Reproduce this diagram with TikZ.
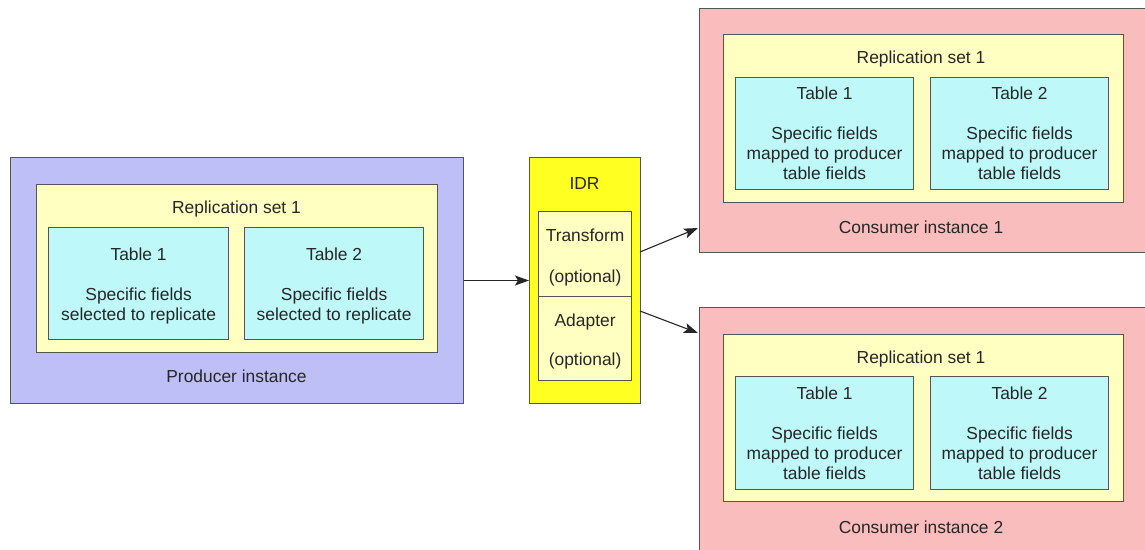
\documentclass[tikz,border=0pt]{standalone}
\usepackage{fontspec}
\setmainfont{Liberation Sans}
\usetikzlibrary{arrows.meta}
\definecolor{prodfill}{HTML}{BFBFF8}
\definecolor{consfill}{HTML}{F9BDBD}
\definecolor{setfill}{HTML}{FFFFC2}
\definecolor{tabfill}{HTML}{BFF8F8}
\definecolor{idrfill}{HTML}{FFFF22}
\definecolor{edge}{HTML}{555555}
\newcommand{\upstrut}[1]{\rule{0pt}{#1}}
\tikzset{
  box/.style={draw=edge, line width=1.2pt, anchor=north west, inner sep=0pt, font=\fontsize{17.4}{20}\selectfont, text=black!85},
  outerbox/.style={box, line width=1pt},
  tabbox/.style={box, fill=tabfill, align=center},
  lbl/.style={anchor=base, inner sep=0pt, font=\fontsize{17.4}{20}\selectfont, text=black!85},
  conn/.style={draw=black!85, line width=1.1pt, -{Stealth[length=14pt,width=10pt,inset=3pt]}}
}
\begin{document}
\begin{tikzpicture}[x=1pt,y=-1pt]
\useasboundingbox (0,0) rectangle (1145,549);
\fill[white] (0,0) rectangle (1145,549);
% Producer
\node[outerbox, fill=prodfill, minimum width=453pt, minimum height=246pt] (prod) at (10,157) {};
\node[box, fill=setfill, minimum width=401pt, minimum height=168pt] (pset) at (36,184) {};
\node[lbl] (psetl) at (236.5,213) {Replication set 1};
\node[tabbox, minimum width=180pt, minimum height=112pt] (pt1) at (48,227) {\upstrut{18pt}Table 1\\[20pt]Specific fields\\selected to replicate};
\node[tabbox, minimum width=179pt, minimum height=112pt] (pt2) at (244,227) {\upstrut{18pt}Table 2\\[20pt]Specific fields\\selected to replicate};
\node[lbl] (prodl) at (236.5,382) {Producer instance};
% IDR
\node[outerbox, fill=idrfill, minimum width=111pt, minimum height=246pt] (idr) at (529,157) {};
\node[lbl] (idrl) at (584.5,189) {IDR};
\node[box, fill=setfill, minimum width=93pt, minimum height=85pt, align=center] (trans) at (538,211) {\upstrut{19pt}Transform\\[21pt](optional)};
\node[box, fill=setfill, minimum width=93pt, minimum height=84pt, align=center] (adapt) at (538,296) {\upstrut{19pt}Adapter\\[19pt](optional)};
% Consumer 1
\node[outerbox, fill=consfill, minimum width=460pt, minimum height=244pt] (cons1) at (699,8) {};
\node[box, fill=setfill, minimum width=400pt, minimum height=168pt] (cset1) at (723,34) {};
\node[lbl] (cset1l) at (921,63) {Replication set 1};
\node[tabbox, minimum width=178pt, minimum height=112pt] (c1t1) at (735,77) {Table 1\\[20pt]Specific fields\\mapped to producer\\table fields};
\node[tabbox, minimum width=178pt, minimum height=112pt] (c1t2) at (930,77) {Table 2\\[20pt]Specific fields\\mapped to producer\\table fields};
\node[lbl] (cons1l) at (921,233) {Consumer instance 1};
% Consumer 2
\node[outerbox, fill=consfill, minimum width=460pt, minimum height=260pt] (cons2) at (699,307) {};
\node[box, fill=setfill, minimum width=400pt, minimum height=167pt] (cset2) at (723,334) {};
\node[lbl] (cset2l) at (921,363) {Replication set 1};
\node[tabbox, minimum width=178pt, minimum height=113pt] (c2t1) at (735,376) {Table 1\\[20pt]Specific fields\\mapped to producer\\table fields};
\node[tabbox, minimum width=178pt, minimum height=113pt] (c2t2) at (930,376) {Table 2\\[20pt]Specific fields\\mapped to producer\\table fields};
\node[lbl] (cons2l) at (921,533) {Consumer instance 2};
% Connectors
\coordinate (o1) at (640,252);
\coordinate (o2) at (640,311);
\coordinate (i1) at (698,228);
\coordinate (i2) at (698,333);
\draw[conn] (prod.east) -- (idr.west);
\draw[conn] (o1) -- (i1);
\draw[conn] (o2) -- (i2);
\end{tikzpicture}
\end{document}
